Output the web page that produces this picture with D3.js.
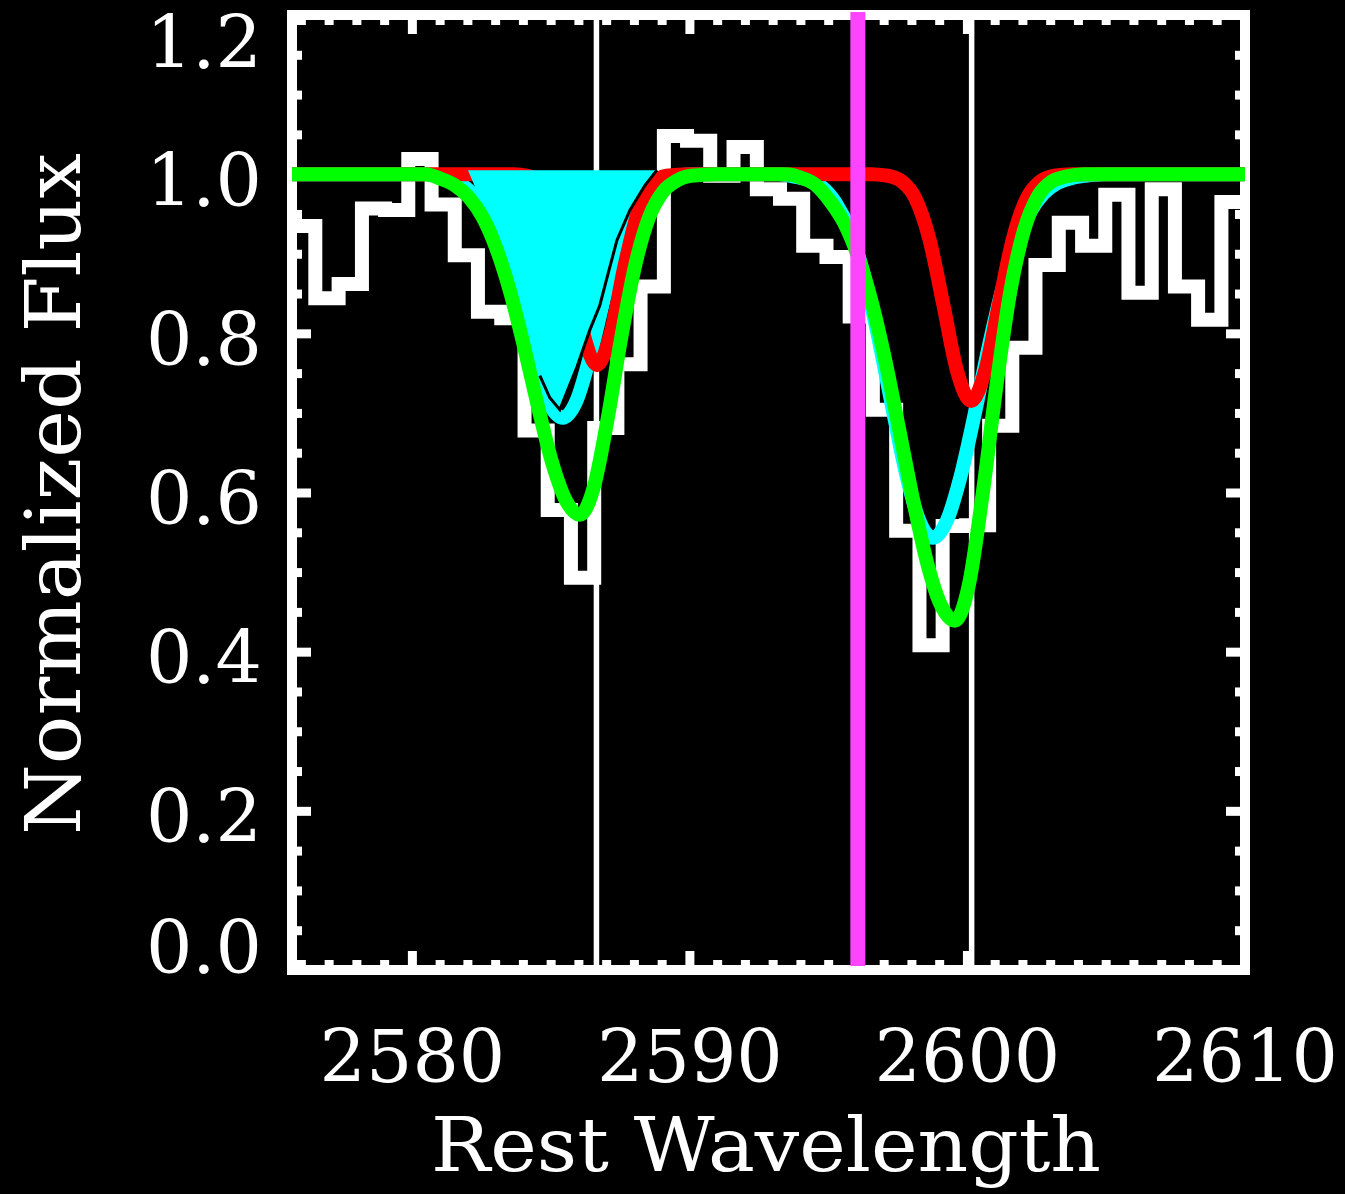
<!DOCTYPE html>
<html>
<head>
<meta charset="utf-8">
<script src="https://cdn.jsdelivr.net/npm/d3@7"></script>
<style>
  body { margin: 0; background: #000; }
  svg { display: block; }
</style>
</head>
<body>
<div id="chart"></div>
<script>
// observed spectrum: bin centres (rest wavelength) and normalised flux
const specWave = [2576.10, 2576.94, 2577.78, 2578.62, 2579.45, 2580.29, 2581.13, 2581.96, 2582.80, 2583.64,
  2584.48, 2585.31, 2586.15, 2586.99, 2587.82, 2588.66, 2589.50, 2590.33, 2591.17, 2592.01,
  2592.85, 2593.68, 2594.52, 2595.36, 2596.19, 2597.03, 2597.87, 2598.71, 2599.54, 2600.38,
  2601.22, 2602.05, 2602.89, 2603.73, 2604.57, 2605.40, 2606.24, 2607.08, 2607.91, 2608.75, 2609.59];
const specFlux = [0.935, 0.844, 0.862, 0.957, 0.955, 1.019, 0.962, 0.898, 0.827, 0.819,
  0.678, 0.578, 0.493, 0.681, 0.761, 0.859, 1.048, 1.042, 0.998, 1.034,
  0.981, 0.969, 0.910, 0.896, 0.821, 0.704, 0.552, 0.408, 0.558, 0.559,
  0.684, 0.782, 0.886, 0.939, 0.910, 0.974, 0.851, 0.981, 0.859, 0.817, 0.965];

// total fit (green)
const totalWave = [2575.68, 2580.5, 2581.05, 2581.55, 2582.05, 2582.55, 2583.05, 2583.55, 2584.05, 2584.55,
  2585.05, 2585.55, 2586.05, 2586.55, 2587.05, 2587.55, 2588.05, 2588.55, 2589.05, 2589.55,
  2590.05, 2591.0, 2593.5, 2594.07, 2594.57, 2595.07, 2595.57, 2596.07, 2596.57, 2597.07,
  2597.57, 2598.07, 2598.57, 2599.07, 2599.57, 2600.07, 2600.57, 2601.07, 2601.57, 2602.07,
  2602.57, 2603.07, 2603.57, 2604.2, 2610.02];
const totalFlux = [1.0, 1.0, 0.994, 0.986, 0.971, 0.946, 0.906, 0.851, 0.782, 0.707,
  0.638, 0.590, 0.572, 0.606, 0.692, 0.796, 0.886, 0.946, 0.978, 0.992,
  0.998, 1.0, 1.0, 0.995, 0.986, 0.966, 0.939, 0.897, 0.839, 0.764,
  0.677, 0.589, 0.511, 0.458, 0.439, 0.484, 0.599, 0.736, 0.854, 0.931,
  0.973, 0.991, 0.997, 1.0, 1.0];

// systemic component (red)
const sysWave = [2575.68, 2583.67, 2584.17, 2584.67, 2585.17, 2585.67, 2586.17, 2586.67, 2587.17, 2587.67,
  2588.17, 2588.67, 2589.17, 2590.0, 2596.5, 2597.15, 2597.65, 2598.15, 2598.65, 2599.15,
  2599.65, 2600.15, 2600.65, 2601.15, 2601.65, 2602.15, 2602.65, 2603.15, 2603.8, 2610.02];
const sysFlux = [1.0, 1.0, 0.998, 0.988, 0.955, 0.886, 0.801, 0.760, 0.801, 0.886,
  0.955, 0.988, 0.998, 1.0, 1.0, 0.998, 0.991, 0.969, 0.918, 0.836,
  0.752, 0.715, 0.752, 0.836, 0.918, 0.969, 0.991, 0.998, 1.0, 1.0];

// outflow component (cyan line)
const outWave = [2575.68, 2580.5, 2580.94, 2581.44, 2581.94, 2582.44, 2582.94, 2583.44, 2583.94, 2584.44,
  2584.94, 2585.44, 2585.94, 2586.44, 2586.94, 2587.44, 2587.94, 2588.44, 2588.94, 2589.44,
  2590.2, 2593.2, 2593.77, 2594.27, 2594.77, 2595.27, 2595.77, 2596.27, 2596.77, 2597.27,
  2597.77, 2598.27, 2598.77, 2599.27, 2599.77, 2600.27, 2600.77, 2601.27, 2601.77, 2602.27,
  2602.77, 2603.27, 2603.77, 2604.27, 2605.0, 2610.02];
const outFlux = [1.0, 1.0, 0.998, 0.993, 0.983, 0.964, 0.931, 0.882, 0.821, 0.759,
  0.712, 0.694, 0.716, 0.774, 0.846, 0.910, 0.955, 0.980, 0.993, 0.998,
  1.0, 1.0, 0.997, 0.993, 0.984, 0.964, 0.930, 0.876, 0.801, 0.714,
  0.629, 0.566, 0.543, 0.564, 0.620, 0.697, 0.781, 0.855, 0.913, 0.952,
  0.976, 0.989, 0.995, 0.998, 1.0, 1.0];

// shaded outflow profile (cyan fill)
const shadeWave = [2582.02, 2582.56, 2583.06, 2583.53, 2583.89, 2584.25, 2584.61, 2584.97, 2585.33,
  2585.95, 2586.41, 2586.77, 2587.10, 2587.39, 2587.86, 2588.40, 2588.83];
const shadeFlux = [1.005, 0.961, 0.917, 0.873, 0.829, 0.785, 0.747, 0.719, 0.704,
  0.758, 0.804, 0.835, 0.879, 0.917, 0.955, 0.986, 1.005];

const restLines = [2586.65, 2600.17];
const markLine = 2596.07;

const xTicks = [2580, 2590, 2600, 2610];
const yTicks = [0, 0.2, 0.4, 0.6, 0.8, 1.0, 1.2];
const xTitle = "Rest Wavelength";
const yTitle = "Normalized Flux";

const W = 1345, H = 1194;
const pL = 292, pR = 1245, pT = 15, pB = 970;
const font = "'DejaVu Serif', 'Liberation Serif', serif";

const x = d3.scaleLinear().domain([2575.68, 2610.02]).range([pL, pR]);
const y = d3.scaleLinear().domain([0, 1.2]).range([pB, pT]);

const svg = d3.select("#chart").append("svg")
  .attr("width", W)
  .attr("height", H)
  .style("background", "#000");

svg.append("clipPath").attr("id", "plot")
  .append("rect")
  .attr("x", pL).attr("y", pT)
  .attr("width", pR - pL).attr("height", pB - pT);

// minor tick positions
const xMinor = d3.range(2576, 2611).filter(v => v % 10 !== 0);
const yMinor = d3.range(1, 24).filter(i => i % 4 !== 0).map(i => i * 0.05);

const styleAxis = g => {
  g.select(".domain").remove();
  g.selectAll("line").attr("stroke", "#fff").attr("stroke-width", 9);
  g.attr("font-family", font).attr("font-size", 73);
  g.selectAll("text").attr("fill", "#fff");
};

const addAxis = (axis, at) => svg.append("g").attr("transform", at).call(axis).call(styleAxis);

// bottom / top
addAxis(d3.axisBottom(x).tickValues(xTicks).tickSize(-19).tickPadding(60).tickFormat(d3.format("d")),
  `translate(0,${pB})`);
addAxis(d3.axisBottom(x).tickValues(xMinor).tickSize(-10).tickFormat(""), `translate(0,${pB})`);
addAxis(d3.axisTop(x).tickValues(xTicks).tickSize(-19).tickFormat(""), `translate(0,${pT})`);
addAxis(d3.axisTop(x).tickValues(xMinor).tickSize(-10).tickFormat(""), `translate(0,${pT})`);

// left / right
const yAx = addAxis(d3.axisLeft(y).tickValues(yTicks).tickSize(-19).tickPadding(30).tickFormat(d3.format(".1f")),
  `translate(${pL},0)`);
yAx.selectAll("text")
  .attr("dy", null)
  .attr("y", d => d === 1.2 ? 52 : d === 0 ? 2 : 31);
addAxis(d3.axisLeft(y).tickValues(yMinor).tickSize(-10).tickFormat(""), `translate(${pL},0)`);
addAxis(d3.axisRight(y).tickValues(yTicks).tickSize(-19).tickFormat(""), `translate(${pR},0)`);
addAxis(d3.axisRight(y).tickValues(yMinor).tickSize(-10).tickFormat(""), `translate(${pR},0)`);

// frame
svg.append("rect")
  .attr("x", pL).attr("y", pT)
  .attr("width", pR - pL).attr("height", pB - pT)
  .attr("fill", "none")
  .attr("stroke", "#fff")
  .attr("stroke-width", 10);

// histogram-style spectrum
const stepPath = (xs, ys) => {
  const n = xs.length;
  const edge = i => i === 0 ? xs[0] - (xs[1] - xs[0]) / 2
    : i === n ? xs[n - 1] + (xs[n - 1] - xs[n - 2]) / 2
    : (xs[i - 1] + xs[i]) / 2;
  const p = d3.path();
  p.moveTo(x(edge(0)), y(ys[0]));
  for (let i = 0; i < n; i++) {
    if (i > 0) p.lineTo(x(edge(i)), y(ys[i]));
    p.lineTo(x(edge(i + 1)), y(ys[i]));
  }
  return p.toString();
};

svg.append("path")
  .attr("clip-path", "url(#plot)")
  .attr("d", stepPath(specWave, specFlux))
  .attr("fill", "none")
  .attr("stroke", "#fff")
  .attr("stroke-width", 14)
  .attr("stroke-linejoin", "miter");

// rest wavelengths of the transitions
svg.selectAll(".rest")
  .data(restLines)
  .enter().append("line")
  .attr("class", "rest")
  .attr("x1", d => x(d)).attr("x2", d => x(d))
  .attr("y1", y(1.2)).attr("y2", y(0))
  .attr("stroke", "#fff")
  .attr("stroke-width", 5.5);

const curve = d3.line()
  .x(d => x(d[0]))
  .y(d => y(d[1]))
  .curve(d3.curveMonotoneX);

const drawCurve = (wave, flux, colour) => svg.append("path")
  .attr("d", curve(d3.zip(wave, flux)))
  .attr("fill", "none")
  .attr("stroke", colour)
  .attr("stroke-width", 14)
  .attr("stroke-linejoin", "round");

drawCurve(outWave, outFlux, "#00ffff");
drawCurve(sysWave, sysFlux, "#ff0000");

// shaded outflow absorption
const shadePts = d3.zip(shadeWave, shadeFlux);
const poly = d3.line().x(d => x(d[0])).y(d => y(d[1]));
svg.append("path")
  .attr("d", poly(shadePts) + "Z")
  .attr("fill", "#00ffff");
svg.append("path")
  .attr("d", poly(shadePts.slice(6)))
  .attr("fill", "none")
  .attr("stroke", "#000")
  .attr("stroke-width", 3);

drawCurve(totalWave, totalFlux, "#00ff00");

// marker
svg.append("line")
  .attr("x1", x(markLine)).attr("x2", x(markLine))
  .attr("y1", 12).attr("y2", 966)
  .attr("stroke", "#ff44ff")
  .attr("stroke-width", 15);

// titles
svg.append("text")
  .attr("x", 766).attr("y", 1171)
  .attr("text-anchor", "middle")
  .attr("font-family", font)
  .attr("font-size", 74)
  .attr("textLength", 670)
  .attr("lengthAdjust", "spacingAndGlyphs")
  .attr("fill", "#fff")
  .text(xTitle);

svg.append("text")
  .attr("transform", "translate(80,494) rotate(-90)")
  .attr("text-anchor", "middle")
  .attr("font-family", font)
  .attr("font-size", 76)
  .attr("textLength", 682)
  .attr("lengthAdjust", "spacingAndGlyphs")
  .attr("fill", "#fff")
  .text(yTitle);
</script>
</body>
</html>
